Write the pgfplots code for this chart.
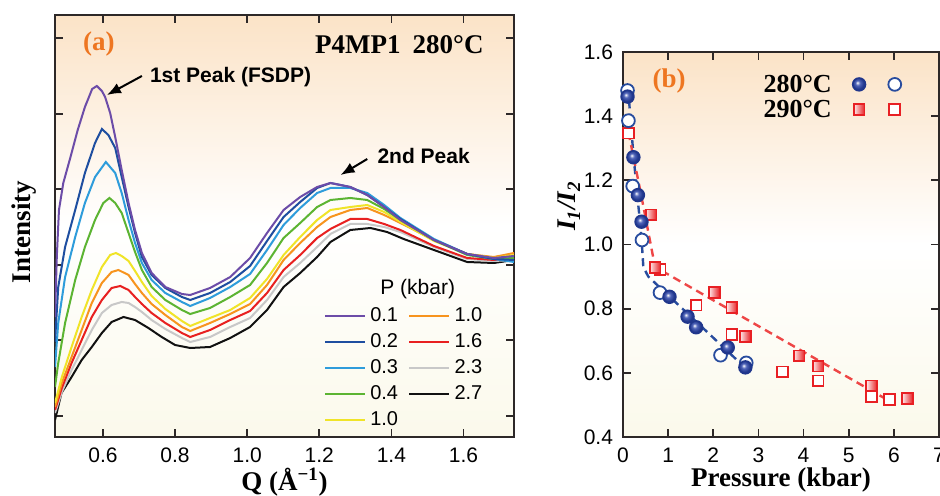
\documentclass[border=0pt]{standalone}
\usepackage{pgfplots}
\pgfplotsset{compat=1.18}
\usepackage{fontspec}
\setmainfont{Liberation Serif}
\newfontfamily\arial{Liberation Sans}
\usetikzlibrary{arrows.meta}

\definecolor{bgtop}{RGB}{251,227,199}
\definecolor{bgbot}{RGB}{251,249,235}
\definecolor{frame}{RGB}{45,40,40}
\definecolor{lbl}{RGB}{238,118,33}
\definecolor{c01}{RGB}{108,76,168}
\definecolor{c02}{RGB}{30,78,160}
\definecolor{c03}{RGB}{46,156,219}
\definecolor{c04}{RGB}{92,180,50}
\definecolor{c10a}{RGB}{240,228,40}
\definecolor{c10b}{RGB}{247,148,30}
\definecolor{c16}{RGB}{232,32,32}
\definecolor{c23}{RGB}{200,200,200}
\definecolor{c27}{RGB}{17,17,17}
\definecolor{bmid}{RGB}{82,102,186}
\definecolor{bdark}{RGB}{32,54,140}
\definecolor{bline}{RGB}{40,76,158}
\definecolor{rred}{RGB}{232,32,36}
\definecolor{rline}{RGB}{238,70,70}

% shaded markers of panel (b)
\pgfdeclareradialshading{blueball}{\pgfpoint{-7bp}{7bp}}{%
  color(0bp)=(white); color(9bp)=(bmid); color(22bp)=(bdark); color(50bp)=(bdark)}
\pgfdeclarehorizontalshading{redsquare}{100bp}{%
  color(0bp)=(white); color(25bp)=(rred!8!white); color(75bp)=(rred); color(100bp)=(rred)}
\pgfdeclareplotmark{ballmark}{%
  \pgfpathcircle{\pgfpointorigin}{\pgfplotmarksize}%
  \pgfshadepath{blueball}{0}%
  \pgfpathcircle{\pgfpointorigin}{\pgfplotmarksize}%
  \pgfusepath{stroke}}
\pgfdeclareplotmark{shadesquare}{%
  \pgfpathrectangle{\pgfqpoint{-\pgfplotmarksize}{-\pgfplotmarksize}}{\pgfqpoint{2\pgfplotmarksize}{2\pgfplotmarksize}}%
  \pgfshadepath{redsquare}{0}%
  \pgfpathrectangle{\pgfqpoint{-\pgfplotmarksize}{-\pgfplotmarksize}}{\pgfqpoint{2\pgfplotmarksize}{2\pgfplotmarksize}}%
  \pgfusepath{stroke}}

\pgfplotsset{
  panel/.style={
    scale only axis, anchor=south west,
    tick align=inside, major tick length=4pt,
    axis line style={line width=1.1pt, frame},
    every tick/.style={line width=0.9pt, frame},
    tick label style={font=\arial\fontsize{10.5}{12}\selectfont},
    /pgf/number format/assume math mode=true,
    label style={font=\bfseries\fontsize{13.5}{16}\selectfont},
    xlabel style={yshift=4.5pt},
    axis background/.style={top color=bgtop, bottom color=bgbot, middle color=white},
  },
  curve/.style={line width=1pt, forget plot},
}

\begin{document}
\begin{tikzpicture}

% ---------------- panel (a) ----------------
\begin{axis}[
  panel,
  at={(27.5pt,29.5pt)},
  width=229.5pt, height=211pt,
  xmin=0.467, xmax=1.74, ymin=0, ymax=422,
  xtick={0.6,0.8,1.0,1.2,1.4,1.6},
  xticklabel style={/pgf/number format/.cd, fixed, fixed zerofill, precision=1},
  xticklabel shift=2pt,
  ytick={21,97,172,248,323,399}, yticklabels={},
  xlabel={Q (Å\textsuperscript{−1})},
  ylabel={Intensity},
  ylabel style={at={(rel axis cs:0,0.5)}, anchor=south, yshift=6pt, xshift=-3pt},
  legend columns=2,
  legend image code/.code={\draw[#1, line width=1.2pt] (0pt,0pt) -- (20pt,0pt);},
  legend style={at={(axis cs:1.195,138)}, anchor=north west, draw=none, fill=none,
    font=\arial\fontsize{10}{12}\selectfont, row sep=0.5pt, cells={anchor=west},
    /tikz/every even column/.append style={column sep=3pt}},
]
\addplot[curve, c27] coordinates {
 (0.467,17)(0.485,44)(0.513,60)(0.541,77)(0.569,90)(0.597,104)(0.624,115)(0.657,120)
 (0.689,117)(0.726,109)(0.763,100)(0.800,92)(0.842,89)(0.897,90)(0.953,99)(1.008,110)
 (1.055,127)(1.101,150)(1.147,164)(1.194,180)(1.231,195)(1.286,207)(1.342,209)(1.388,205)
 (1.434,198)(1.518,187)(1.610,175)(1.684,174)(1.740,177)};
\addplot[curve, c23] coordinates {
 (0.467,24)(0.486,45)(0.513,67)(0.541,87)(0.569,107)(0.597,124)(0.624,132)(0.652,135)
 (0.671,134)(0.689,130)(0.708,125)(0.735,117)(0.773,108)(0.819,99)(0.842,95)(0.897,100)
 (0.953,110)(1.008,119)(1.055,137)(1.101,160)(1.147,174)(1.194,190)(1.231,203)(1.286,213)
 (1.333,213)(1.380,210)(1.425,205)(1.518,190)(1.610,178)(1.684,176)(1.740,177)};
\addplot[curve, c16] coordinates {
 (0.467,27)(0.486,49)(0.513,74)(0.541,97)(0.569,120)(0.597,137)(0.624,149)(0.648,151)
 (0.671,147)(0.689,140)(0.708,133)(0.735,124)(0.773,114)(0.819,104)(0.842,100)(0.897,107)
 (0.953,117)(1.008,126)(1.055,144)(1.101,167)(1.147,182)(1.194,199)(1.231,208)(1.286,218)
 (1.333,218)(1.380,213)(1.425,207)(1.518,191)(1.610,179)(1.684,177)(1.740,179)};
\addplot[curve, c10b] coordinates {
 (0.467,30)(0.486,54)(0.513,80)(0.541,107)(0.569,134)(0.597,154)(0.624,165)(0.643,167)
 (0.671,162)(0.689,153)(0.708,144)(0.735,133)(0.773,122)(0.819,110)(0.842,106)(0.897,114)
 (0.953,123)(1.008,133)(1.055,152)(1.101,177)(1.147,194)(1.194,210)(1.231,220)(1.286,227)
 (1.333,229)(1.380,222)(1.425,214)(1.518,197)(1.610,183)(1.684,180)(1.740,184)};
\addplot[curve, c10a] coordinates {
 (0.467,34)(0.486,60)(0.513,90)(0.541,120)(0.569,147)(0.597,170)(0.620,182)(0.636,184)
 (0.652,181)(0.671,176)(0.689,166)(0.708,155)(0.735,141)(0.773,128)(0.819,116)(0.842,111)
 (0.897,119)(0.953,127)(1.008,139)(1.055,158)(1.101,182)(1.147,200)(1.194,217)(1.231,227)
 (1.286,230)(1.333,232)(1.380,225)(1.425,215)(1.518,196)(1.610,183)(1.684,179)(1.740,182)};
\addplot[curve, c04] coordinates {
 (0.467,50)(0.476,74)(0.495,114)(0.523,157)(0.550,190)(0.578,217)(0.601,234)(0.618,239)
 (0.634,234)(0.652,224)(0.671,204)(0.689,185)(0.708,167)(0.735,150)(0.773,137)(0.819,127)
 (0.842,123)(0.897,129)(0.953,140)(1.008,152)(1.055,174)(1.101,199)(1.147,214)(1.194,230)
 (1.231,237)(1.286,239)(1.333,237)(1.380,228)(1.425,217)(1.518,197)(1.610,182)(1.684,178)(1.740,179)};
\addplot[curve, c03] coordinates {
 (0.467,70)(0.476,114)(0.495,160)(0.523,200)(0.550,234)(0.578,260)(0.608,275)(0.634,264)
 (0.652,244)(0.671,217)(0.689,194)(0.708,174)(0.735,157)(0.773,144)(0.819,135)(0.842,131)
 (0.897,139)(0.953,150)(1.008,163)(1.055,187)(1.101,212)(1.147,229)(1.194,244)(1.231,249)
 (1.286,249)(1.333,244)(1.380,232)(1.425,219)(1.518,198)(1.610,183)(1.684,178)(1.740,175)};
\addplot[curve, c02] coordinates {
 (0.467,95)(0.476,150)(0.495,190)(0.523,227)(0.550,264)(0.578,294)(0.597,308)(0.615,302)
 (0.634,289)(0.652,260)(0.671,230)(0.689,204)(0.708,180)(0.735,162)(0.773,149)(0.819,140)
 (0.842,137)(0.897,144)(0.953,155)(1.008,171)(1.055,196)(1.101,220)(1.147,235)(1.194,249)
 (1.231,254)(1.286,250)(1.333,242)(1.380,230)(1.425,218)(1.518,197)(1.610,183)(1.684,178)(1.740,177)};
\addplot[curve, c01] coordinates {
 (0.467,120)(0.472,180)(0.478,227)(0.490,254)(0.510,280)(0.530,307)(0.550,330)(0.570,348)
 (0.583,351)(0.597,346)(0.606,340)(0.620,324)(0.634,300)(0.652,267)(0.671,234)(0.689,207)
 (0.708,184)(0.735,164)(0.773,150)(0.819,143)(0.842,142)(0.897,149)(0.953,160)(1.008,179)
 (1.055,204)(1.101,227)(1.147,240)(1.194,250)(1.231,254)(1.286,250)(1.333,242)(1.380,230)
 (1.425,217)(1.518,197)(1.610,183)(1.684,179)(1.740,181)};

% legend, filled row by row
\addlegendimage{c01}\addlegendentry{0.1}
\addlegendimage{c10b}\addlegendentry{1.0}
\addlegendimage{c02}\addlegendentry{0.2}
\addlegendimage{c16}\addlegendentry{1.6}
\addlegendimage{c03}\addlegendentry{0.3}
\addlegendimage{c23}\addlegendentry{2.3}
\addlegendimage{c04}\addlegendentry{0.4}
\addlegendimage{c27}\addlegendentry{2.7}
\addlegendimage{c10a}\addlegendentry{1.0}

\node[font=\arial\fontsize{10.5}{12}\selectfont] at (axis cs:1.473,148) {P (kbar)};
\node[font=\bfseries\fontsize{13.5}{16}\selectfont, text=lbl] at (axis cs:0.589,393) {(a)};
\node[font=\bfseries\fontsize{13.5}{16}\selectfont, anchor=east] at (axis cs:1.675,392)
  {P4MP1\hspace{0.45em}280°C};
\node[font=\arial\bfseries\fontsize{10.5}{12}\selectfont, anchor=west] at (axis cs:0.711,360)
  {1st Peak (FSDP)};
\node[font=\arial\bfseries\fontsize{10.5}{12}\selectfont, anchor=west] at (axis cs:1.342,281)
  {2nd Peak};
\draw[-{Latex[length=7pt,width=5.5pt]}, line width=1pt] (axis cs:0.708,361) -- (axis cs:0.611,342);
\draw[-{Latex[length=7pt,width=5.5pt]}, line width=1pt] (axis cs:1.333,278) -- (axis cs:1.259,262);
\end{axis}

% ---------------- panel (b) ----------------
\begin{axis}[
  panel,
  at={(311.5pt,29.5pt)},
  width=158pt, height=192.5pt,
  xmin=0, xmax=7, ymin=0.4, ymax=1.6,
  xtick={0,1,2,3,4,5,6,7},
  ytick={0.4,0.6,0.8,1.0,1.2,1.4,1.6},
  yticklabel style={/pgf/number format/.cd, fixed, fixed zerofill, precision=1},
  xticklabel shift=2pt, yticklabel shift=1.5pt,
  xlabel={Pressure (kbar)},
  ylabel={\textit{I\textsubscript{1}/I\textsubscript{2}}},
  ylabel style={at={(ticklabel cs:0.6)}, yshift=-5pt},
]
% guide lines
\addplot[bline, line width=1.2pt, dash pattern=on 4pt off 2.6pt] coordinates {
 (0.11,1.49)(0.23,1.28)(0.41,1.02)(0.45,0.93)(0.56,0.90)(2.75,0.61)};
\addplot[rline, line width=1.2pt, dash pattern=on 4pt off 2.6pt] coordinates {
 (0.12,1.35)(0.38,1.17)(0.60,1.01)(0.71,0.93)(5.93,0.51)};
% 290 C, open and filled squares
\addplot[only marks, mark=square*, mark size=2.7pt, mark options={draw=rred, fill=white, line width=0.9pt}] coordinates {
 (0.12,1.347)(0.82,0.923)(1.62,0.811)(2.41,0.720)(3.53,0.603)(4.32,0.575)(5.51,0.526)(5.90,0.517)};
\addplot[only marks, mark=shadesquare, mark size=2.7pt, mark options={draw=rred, line width=0.9pt}] coordinates {
 (0.62,1.092)(0.71,0.929)(2.02,0.850)(2.41,0.803)(2.71,0.713)(3.90,0.653)(4.32,0.621)(5.51,0.559)(6.30,0.520)};
% 280 C, open and filled circles
\addplot[only marks, mark=*, mark size=3.2pt, mark options={draw=bline, fill=white, line width=0.9pt}] coordinates {
 (0.10,1.480)(0.12,1.386)(0.215,1.182)(0.42,1.014)(0.82,0.850)(2.16,0.655)(2.73,0.631)};
\addplot[only marks, mark=ballmark, mark size=3.2pt, mark options={draw=bdark, line width=0.8pt}] coordinates {
 (0.10,1.461)(0.23,1.272)(0.33,1.154)(0.41,1.071)(1.03,0.837)(1.43,0.775)(1.62,0.742)(2.32,0.679)(2.71,0.617)};
% key
\addplot[only marks, mark=ballmark, mark size=3.2pt, mark options={draw=bdark, line width=0.8pt}] coordinates {(5.23,1.499)};
\addplot[only marks, mark=*, mark size=3.2pt, mark options={draw=bline, fill=white, line width=0.9pt}] coordinates {(6.02,1.499)};
\addplot[only marks, mark=shadesquare, mark size=2.7pt, mark options={draw=rred, line width=0.9pt}] coordinates {(5.23,1.421)};
\addplot[only marks, mark=square*, mark size=2.7pt, mark options={draw=rred, fill=white, line width=0.9pt}] coordinates {(6.02,1.421)};
\node[font=\bfseries\fontsize{13}{15}\selectfont, anchor=east] at (axis cs:4.78,1.499) {280°C};
\node[font=\bfseries\fontsize{13}{15}\selectfont, anchor=east] at (axis cs:4.78,1.421) {290°C};
\node[font=\bfseries\fontsize{13.5}{16}\selectfont, text=lbl] at (axis cs:1.02,1.51) {(b)};
\end{axis}

\pgfresetboundingbox
\path[use as bounding box] (0,0) rectangle (470pt,248pt);
\end{tikzpicture}
\end{document}
